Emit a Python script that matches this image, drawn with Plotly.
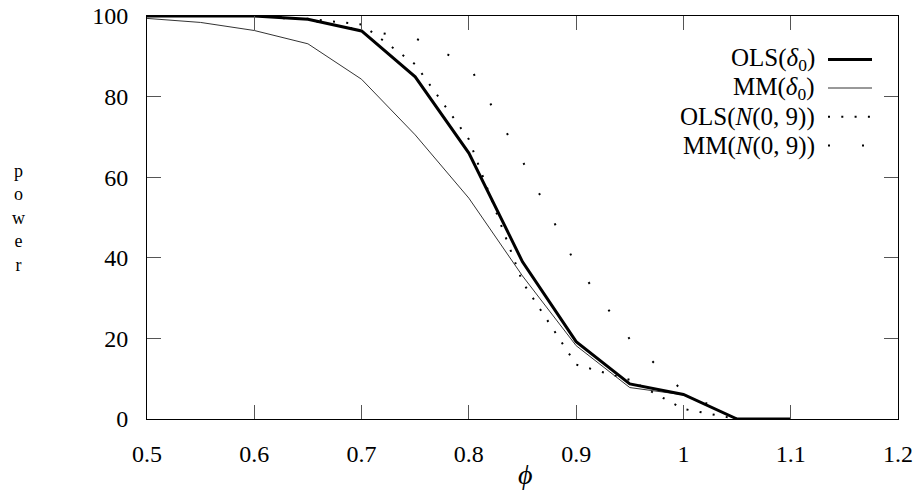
import plotly.graph_objects as go

phi = [0.5, 0.55, 0.6, 0.65, 0.7, 0.75, 0.8, 0.85, 0.9, 0.95, 1.0, 1.05, 1.1]
ols_delta0 = [100, 100, 100, 99.2, 96.3, 84.9, 66.0, 39.0, 19.2, 8.7, 6.1, 0, 0]
mm_delta0 = [99.4, 98.4, 96.4, 93.1, 84.3, 70.5, 54.8, 35.5, 18.2, 7.8, 6.0, 0, 0]
ols_n09 = [100, 100, 100, 99.3, 97.9, 88.0, 69.4, 34.0, 13.5, 9.7, 2.5, 0, 0]
mm_n09 = [100, 100, 100, 99.0, 96.5, 94.5, 87.8, 64.0, 38.2, 19.8, 6.8, 0, 0]

series_names = ["OLS(<i>δ</i><sub>0</sub>)", "MM(<i>δ</i><sub>0</sub>)",
                "OLS(<i>N</i>(0, 9))", "MM(<i>N</i>(0, 9))"]
x_tickvals = [0.5, 0.6, 0.7, 0.8, 0.9, 1.0, 1.1, 1.2]
x_ticktext = ["0.5", "0.6", "0.7", "0.8", "0.9", "1", "1.1", "1.2"]
y_tickvals = [0, 20, 40, 60, 80, 100]

FONT = "Liberation Serif"

styles = [
    dict(width=3, dash="solid", color="black"),
    dict(width=1, dash="solid", color="#333"),
    dict(width=2, dash="2px,11.3px", color="black"),
    dict(width=2, dash="2px,32px", color="black"),
]
data = [ols_delta0, mm_delta0, ols_n09, mm_n09]

fig = go.Figure()
for i in [3, 2, 1, 0]:
    fig.add_trace(go.Scatter(x=phi, y=data[i], mode="lines", name=series_names[i],
                             line=styles[i], showlegend=False, hoverinfo="skip"))

axis_common = dict(showgrid=False, zeroline=False, showline=True, linecolor="black",
                   linewidth=1, mirror="allticks", ticks="inside", ticklen=14,
                   tickcolor="#555", tickwidth=1, automargin=False,
                   tickfont=dict(family=FONT, size=24, color="black"))

fig.update_xaxes(range=[0.5, 1.2], tickvals=x_tickvals, ticktext=x_ticktext,
                 ticklabelstandoff=13, **axis_common)
fig.update_yaxes(range=[0, 100], tickvals=y_tickvals, ticklabelstandoff=13, **axis_common)

W, H = 917, 490
ml, mr, mt, mb = 147, 19, 16, 71
pw, ph = W - ml - mr, H - mt - mb

def px_to_paper(xp, yp):
    return (xp - ml) / pw, 1 - (yp - mt) / ph

# manual legend (text right-aligned, sample on the right)
rows_y = [59.5, 88, 116.7, 145.5]
for name, st, yp in zip(series_names, styles, rows_y):
    tx, ty = px_to_paper(816, yp)
    fig.add_annotation(x=tx, y=ty, xref="paper", yref="paper", text=name,
                       showarrow=False, xanchor="right", yanchor="middle", borderpad=0,
                       font=dict(family=FONT, size=25, color="black"))
    x0, _ = px_to_paper(828, yp)
    x1, _ = px_to_paper(872, yp)
    fig.add_shape(type="line", xref="paper", yref="paper", x0=x0, x1=x1, y0=ty, y1=ty,
                  line=st)

# axis labels
fx, fy = px_to_paper(525, 474)
fig.add_annotation(x=fx, y=fy, xref="paper", yref="paper", text="<i>ϕ</i>",
                   showarrow=False, xanchor="center", yanchor="middle",
                   font=dict(family=FONT, size=28, color="black"))
lx, ly = px_to_paper(18, 218)
fig.add_annotation(x=lx, y=ly, xref="paper", yref="paper", text="p<br>o<br>w<br>e<br>r",
                   showarrow=False, xanchor="center", yanchor="middle",
                   font=dict(family=FONT, size=18, color="black"))

fig.update_layout(width=W, height=H, margin=dict(l=ml, r=mr, t=mt, b=mb, autoexpand=False),
                  paper_bgcolor="white", plot_bgcolor="white", showlegend=False)

fig.write_html("out.html", config={"displayModeBar": False},
               post_script="document.body.style.margin='0';document.body.style.padding='0';")
